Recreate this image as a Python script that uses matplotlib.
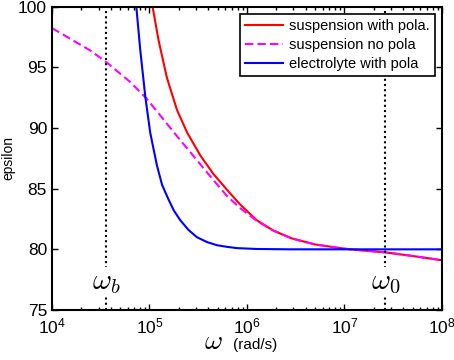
import numpy as np
import matplotlib
matplotlib.use("Agg")
import matplotlib.pyplot as plt
from matplotlib.ticker import LogLocator, NullFormatter

plt.rcParams['font.family'] = ['Liberation Sans', 'DejaVu Sans']
plt.rcParams['mathtext.fontset'] = 'cm'

# log10(omega) and epsilon values
logw_red = [5.02, 5.032, 5.093, 5.179, 5.282, 5.385, 5.521, 5.657, 5.829, 5.93,
            6.10, 6.27, 6.46, 6.7, 7.0, 7.2, 7.42, 7.7, 8.0]
eps_red = [100.6, 100.0, 97.25, 94.15, 91.5, 89.65, 87.75, 86.2, 84.6, 83.7,
           82.4, 81.55, 80.9, 80.4, 80.05, 79.9, 79.75, 79.45, 79.1]

logw_mag = [4.0, 4.222, 4.393, 4.563, 4.803, 4.974, 5.145, 5.316, 5.487, 5.657, 5.795,
            5.93, 6.10, 6.27, 6.46, 6.7, 7.0, 7.2, 7.42, 7.7, 8.0]
eps_mag = [98.25, 97.2, 96.4, 95.4, 93.8, 92.4, 90.7, 89.0, 87.35, 85.7, 84.4,
           83.4, 82.35, 81.55, 80.9, 80.4, 80.05, 79.9, 79.75, 79.45, 79.1]

logw_blue = [4.85, 4.865, 4.906, 4.957, 5.008, 5.077, 5.13, 5.196, 5.25, 5.316, 5.40,
             5.487, 5.59, 5.692, 5.80, 5.897, 6.1, 6.44, 8.0]
eps_blue = [101.3, 100.0, 96.4, 92.6, 89.6, 86.9, 85.3, 84.1, 83.2, 82.4, 81.6,
            81.0, 80.6, 80.34, 80.2, 80.1, 80.03, 80.0, 80.0]

labels = ['suspension with pola.', 'suspension no pola', 'electrolyte with pola']
omega_b = 10 ** 4.554
omega_0 = 10 ** 7.42

fig = plt.figure(figsize=(4.54, 3.6), dpi=100)
ax = fig.add_axes([0.1145, 0.139, 0.859, 0.842])

ax.plot(10 ** np.array(logw_red), eps_red, color='red', lw=1.5, label=labels[0])
ax.plot(10 ** np.array(logw_mag), eps_mag, color='magenta', lw=1.5, ls=(0, (4, 2)), label=labels[1])
ax.plot(10 ** np.array(logw_blue), eps_blue, color='blue', lw=1.5, label=labels[2])

ax.axvline(omega_b, color='black', ls=(0, (1, 1.5)), lw=1.5)
ax.axvline(omega_0, color='black', ls=(0, (1, 1.5)), lw=1.5)
for w, s in [(omega_b, r'$\omega_b$'), (omega_0, r'$\omega_0$')]:
    ax.text(w, 77.3, s, fontsize=21, ha='center', va='center',
            bbox=dict(facecolor='white', edgecolor='none', pad=0.5))

ax.set_xscale('log')
ax.set_xlim(1e4, 1e8)
ax.set_ylim(75, 100)
ax.set_yticks([75, 80, 85, 90, 95, 100])
ax.xaxis.set_major_locator(LogLocator(base=10, numticks=10))
ax.xaxis.set_minor_locator(LogLocator(base=10, subs=np.arange(2, 10), numticks=10))
ax.xaxis.set_minor_formatter(NullFormatter())
ax.tick_params(which='both', direction='in', top=True, right=True, labelsize=12.5, width=1)
ax.tick_params(which='major', length=4)
ax.tick_params(which='minor', length=2.5)
ax.tick_params(axis='x', pad=5)
for s in ax.spines.values():
    s.set_linewidth(1.5)

# x label: large omega symbol plus unit text
ax.text(0.415, -0.13, r'$\omega$', transform=ax.transAxes, fontsize=20,
        ha='center', va='baseline')
ax.text(0.463, -0.13, '(rad/s)', transform=ax.transAxes, fontsize=11,
        ha='left', va='baseline')
ax.set_ylabel('epsilon', fontsize=10)
ax.yaxis.set_label_coords(-0.093, 0.5)

leg = ax.legend(loc='upper right', fontsize=10.5, frameon=True, fancybox=False,
                edgecolor='black', framealpha=1, handlelength=2.6, handletextpad=0.4,
                borderpad=0.35, labelspacing=0.33, borderaxespad=0.5)
leg.get_frame().set_linewidth(1.2)

fig.savefig('out.png', dpi=100)
